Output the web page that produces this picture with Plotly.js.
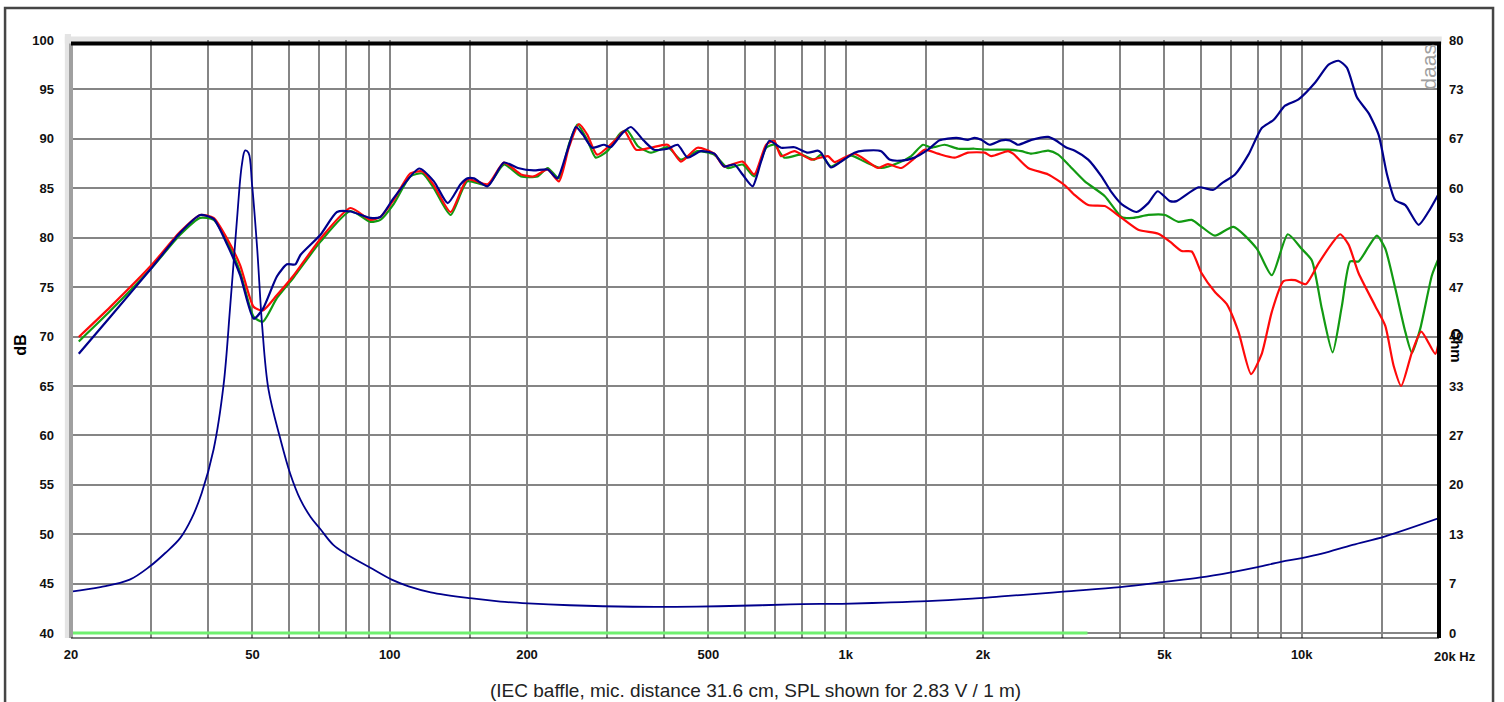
<!DOCTYPE html>
<html>
<head>
<meta charset="utf-8">
<script src="https://cdn.plot.ly/plotly-3.0.1.min.js"></script>
<style>
  html, body { margin: 0; padding: 0; background: #ffffff; }
  #chart { width: 1504px; height: 702px; }
</style>
</head>
<body>
<div id="chart"></div>
<script>
// ---------- DATA ----------
// SPL curves (dB), frequency in Hz
const redFreq = [20.8, 24.4, 30, 34.7, 38.4, 41.1, 44, 47, 50.3, 52.7, 56.6, 61.6, 70.5, 82, 90.7, 95.4, 102, 111, 118, 125, 136, 148, 164, 178, 194, 207, 222, 235, 247, 260, 271, 285, 316, 327, 347, 374, 407, 435, 473, 515, 541, 594, 630, 669, 697, 721, 772, 840, 914, 945, 994, 1045, 1118, 1177, 1238, 1324, 1404, 1489, 1593, 1733, 1854, 2017, 2086, 2270, 2328, 2512, 2780, 3023, 3180, 3402, 3700, 4026, 4380, 4846, 5140, 5454, 5736, 6032, 6452, 6844, 7264, 7742, 8172, 8598, 9120, 9670, 10210, 10884, 11642, 12142, 12668, 13326, 14492, 15244, 15904, 16526, 17446, 18286, 19626, 20000];
const redDb = [69.95, 73.0, 77.2, 80.6, 82.3, 82.0, 79.9, 77.2, 73.0, 72.65, 74.2, 76.2, 79.9, 83.0, 81.8, 82.1, 83.8, 86.5, 86.7, 85.3, 82.6, 85.9, 85.4, 87.6, 86.4, 86.2, 86.9, 85.7, 89.1, 91.5, 90.45, 88.4, 90.1, 90.8, 88.9, 89.1, 89.4, 87.7, 89.1, 88.5, 87.2, 87.7, 86.4, 89.4, 89.8, 88.25, 88.75, 87.9, 88.25, 87.65, 88.1, 88.5, 87.7, 87.05, 87.45, 87.05, 87.9, 88.9, 88.5, 88.1, 88.6, 88.6, 88.25, 88.75, 88.5, 87.05, 86.4, 85.3, 84.3, 83.3, 83.2, 82.0, 80.8, 80.4, 79.6, 78.65, 78.6, 76.4, 74.5, 73.3, 70.5, 66.2, 68.25, 72.5, 75.6, 75.7, 75.3, 77.4, 79.4, 80.35, 79.3, 76.4, 73.1, 71.1, 67.05, 65.0, 68.4, 70.5, 68.25, 69.6];

const greenFreq = [20.8, 24.4, 30, 34.7, 38.4, 41.1, 44, 47, 50.3, 52.7, 56.6, 61.6, 70.5, 82, 90.7, 95.4, 102, 111, 118, 125, 136, 148, 164, 178, 194, 211, 222, 235, 247, 258, 271, 283, 300, 321, 332, 350, 374, 407, 435, 473, 515, 551, 594, 630, 669, 697, 733, 798, 854, 883, 928, 1027, 1099, 1196, 1302, 1392, 1477, 1540, 1648, 1763, 1917, 2052, 2270, 2428, 2554, 2780, 2924, 3076, 3344, 3700, 4026, 4270, 4608, 5012, 5364, 5736, 6032, 6452, 7084, 7968, 8598, 9320, 10006, 10524, 11070, 11688, 12248, 12774, 13326, 14016, 14618, 15244, 16032, 16866, 17446, 18194, 19302, 20000];
const greenDb = [69.5, 72.6, 76.9, 80.3, 82.0, 81.8, 79.6, 76.5, 72.0, 71.5, 73.9, 76.0, 79.6, 82.7, 81.6, 81.8, 83.4, 86.2, 86.5, 85.0, 82.3, 85.7, 85.3, 87.4, 86.2, 86.2, 87.05, 86.0, 89.4, 91.45, 89.9, 88.1, 88.75, 90.6, 90.85, 89.25, 88.6, 89.15, 87.9, 88.75, 88.4, 87.05, 87.4, 86.2, 89.1, 89.4, 88.1, 88.4, 87.9, 88.4, 87.2, 88.3, 87.7, 87.05, 87.55, 88.25, 89.4, 89.1, 89.4, 89.0, 89.0, 88.9, 88.9, 88.75, 88.5, 88.8, 88.4, 87.4, 85.7, 84.2, 82.1, 82.0, 82.3, 82.3, 81.6, 81.8, 81.1, 80.2, 81.1, 78.9, 76.2, 80.35, 78.85, 77.7, 72.8, 68.4, 73.1, 77.6, 77.6, 79.1, 80.2, 78.9, 74.9, 70.5, 68.35, 70.8, 76.2, 78.0];

const blueFreq = [20.8, 24.4, 30, 34.7, 38.4, 41.1, 44, 47, 50.3, 52.7, 56.6, 59.5, 62.1, 63.7, 70.5, 76.6, 82, 90.7, 95.4, 102, 116, 125, 134, 143, 148, 153, 164, 178, 191, 207, 222, 233, 245, 256, 265, 278, 295, 305, 324, 338, 361, 380, 407, 428, 450, 481, 515, 541, 570, 594, 625, 652, 680, 721, 772, 826, 868, 883, 928, 977, 1045, 1099, 1196, 1247, 1324, 1416, 1515, 1606, 1748, 1854, 1917, 1983, 2068, 2194, 2288, 2388, 2554, 2780, 2874, 3038, 3180, 3402, 3638, 3826, 4026, 4342, 4608, 4830, 5140, 5318, 5934, 6402, 6676, 7140, 7642, 8172, 8670, 9192, 9840, 10704, 11452, 12048, 12562, 13214, 14016, 14746, 15382, 16032, 16872, 18048, 18982, 20000];
const blueDb = [68.25, 72.0, 76.9, 80.5, 82.3, 81.9, 79.3, 76.2, 71.8, 72.8, 76.1, 77.3, 77.3, 78.25, 80.3, 82.6, 82.65, 82.0, 82.1, 84.0, 87.0, 85.7, 83.5, 85.4, 86.0, 86.0, 85.2, 87.6, 87.05, 86.8, 86.9, 86.0, 88.75, 91.2, 90.45, 89.1, 89.4, 89.15, 90.6, 91.2, 89.8, 88.9, 89.0, 89.4, 88.1, 88.75, 88.5, 87.2, 87.4, 86.4, 85.2, 87.7, 89.8, 89.1, 89.15, 88.6, 88.8, 88.6, 87.1, 87.7, 88.6, 88.8, 88.75, 87.9, 87.8, 88.1, 88.9, 89.85, 90.1, 89.9, 90.1, 89.9, 89.4, 89.85, 89.85, 89.4, 89.9, 90.2, 89.9, 89.15, 88.8, 87.9, 86.2, 84.6, 83.4, 82.6, 83.5, 84.7, 83.7, 83.7, 85.1, 84.85, 85.5, 86.4, 88.4, 91.1, 91.9, 93.35, 94.0, 95.7, 97.5, 97.9, 97.2, 94.2, 92.6, 90.4, 86.4, 83.8, 83.3, 81.3, 82.65, 84.5];

// Impedance curve (Ohm)
const impFreq = [20, 23.2, 26.9, 29.8, 32.2, 34.7, 36.8, 38.7, 41.1, 43.2, 44.7, 46.2, 47.4, 48.2, 49.0, 49.9, 51.2, 52.5, 54.2, 57.5, 60.5, 63.7, 67.0, 70.5, 75.2, 80.6, 90.7, 101, 110, 123, 150, 175, 201, 248, 341, 471, 652, 803, 980, 1216, 1512, 1893, 2195, 2700, 3000, 4000, 5000, 6000, 7000, 8000, 9000, 10000, 11070, 12928, 15244, 20000];
const impOhm = [5.6, 6.2, 7.2, 9.0, 10.8, 12.8, 15.5, 18.9, 24.8, 33.4, 44.2, 55.5, 63.2, 65.1, 64.8, 60.5, 51.9, 41.5, 32.9, 26.3, 21.5, 18.0, 15.7, 14.0, 11.9, 10.6, 8.8, 7.2, 6.3, 5.5, 4.7, 4.25, 4.0, 3.75, 3.55, 3.57, 3.75, 3.9, 3.95, 4.1, 4.3, 4.65, 4.95, 5.35, 5.6, 6.2, 6.9, 7.5, 8.2, 8.9, 9.6, 10.1, 10.7, 11.9, 13.05, 15.5];

// Light-green reference line at the bottom (dB)
const refFreq = [20, 3390];
const refDb = [40, 40];

// Axes / ticks
const gridFreqs = [20, 30, 40, 50, 60, 70, 80, 90, 100, 150, 200, 300, 400, 500, 600, 700, 800, 900, 1000, 1500, 2000, 3000, 4000, 5000, 6000, 7000, 8000, 9000, 10000, 15000, 20000];
const labelFreqs = [20, 50, 100, 200, 500, 1000, 2000, 5000, 10000];
const labelTexts = ['20', '50', '100', '200', '500', '1k', '2k', '5k', '10k'];
const dbTicks = [40, 45, 50, 55, 60, 65, 70, 75, 80, 85, 90, 95, 100];
const ohmTickLabels = ['0', '7', '13', '20', '27', '33', '40', '47', '53', '60', '67', '73', '80'];
const captionText = '(IEC baffle, mic. distance 31.6 cm, SPL shown for 2.83 V / 1 m)';

// ---------- BUILD ----------
const xTickText = gridFreqs.map(f => {
  const i = labelFreqs.indexOf(f);
  return i >= 0 ? labelTexts[i] : '';
});
const ohmMax = 80;
const ohmTickVals = ohmTickLabels.map((t, i) => i * ohmMax / (ohmTickLabels.length - 1));
const dbRange = [39.5, 100];
const ohmRange = [(dbRange[0] - 40) * ohmMax / 60, ohmMax];

const FONT = 'Liberation Sans, Arial, sans-serif';

const traces = [
  { x: refFreq, y: refDb, type: 'scatter', mode: 'lines', line: { color: '#70f070', width: 3 }, hoverinfo: 'skip', showlegend: false },
  { x: greenFreq, y: greenDb, type: 'scatter', mode: 'lines', line: { color: '#129a12', width: 2.2, shape: 'spline', smoothing: 0.6 }, showlegend: false },
  { x: redFreq, y: redDb, type: 'scatter', mode: 'lines', line: { color: '#ff0a0a', width: 2.2, shape: 'spline', smoothing: 0.6 }, showlegend: false },
  { x: blueFreq, y: blueDb, type: 'scatter', mode: 'lines', line: { color: '#00008c', width: 2.2, shape: 'spline', smoothing: 0.6 }, showlegend: false },
  { x: impFreq, y: impOhm, yaxis: 'y2', type: 'scatter', mode: 'lines', line: { color: '#00008c', width: 1.8, shape: 'spline', smoothing: 1.0 }, showlegend: false }
];

const layout = {
  width: 1504,
  height: 702,
  margin: { l: 71, r: 65, t: 40, b: 64, pad: 0 },
  paper_bgcolor: '#ffffff',
  plot_bgcolor: '#ffffff',
  font: { family: FONT, color: '#000000' },
  showlegend: false,
  xaxis: {
    type: 'log',
    range: [Math.log10(20), Math.log10(20000)],
    tickmode: 'array',
    tickvals: gridFreqs,
    ticktext: xTickText,
    showgrid: true,
    gridcolor: '#858585',
    gridwidth: 2,
    zeroline: false,
    showline: false,
    ticks: '',
    ticklabelstandoff: 7,
    tickfont: { family: FONT, size: 13, weight: 'bold', color: '#111111' }
  },
  yaxis: {
    range: dbRange,
    tickmode: 'array',
    tickvals: dbTicks,
    ticktext: dbTicks.map(String),
    showgrid: true,
    gridcolor: '#858585',
    gridwidth: 2,
    zeroline: false,
    showline: false,
    ticks: '',
    ticklabelstandoff: 16,
    tickfont: { family: FONT, size: 13, weight: 'bold', color: '#111111' }
  },
  yaxis2: {
    overlaying: 'y',
    side: 'right',
    range: ohmRange,
    tickmode: 'array',
    tickvals: ohmTickVals,
    ticktext: ohmTickLabels,
    showgrid: false,
    zeroline: false,
    showline: false,
    ticks: '',
    ticklabelstandoff: 9,
    tickfont: { family: FONT, size: 13, weight: 'bold', color: '#111111' }
  },
  shapes: [
    // outer frame
    { type: 'rect', xref: 'paper', yref: 'paper', x0: -0.0482, x1: 1.0395, y0: -0.2, y1: 1.0535, line: { color: '#454545', width: 2.5 }, fillcolor: 'rgba(0,0,0,0)', layer: 'below' },
    // light shadow at left and top of plot area
    { type: 'rect', xref: 'paper', yref: 'paper', x0: -0.0045, x1: 0, y0: 0, y1: 1.01, line: { width: 0 }, fillcolor: '#e4e4e4', layer: 'below' },
    { type: 'rect', xref: 'paper', yref: 'paper', x0: -0.0045, x1: 1.002, y0: 0.9942, y1: 1.006, line: { width: 0 }, fillcolor: '#e4e4e4', layer: 'below' },
    // left axis (grey)
    { type: 'line', xref: 'paper', yref: 'paper', x0: 0, x1: 0, y0: 0, y1: 0.9942, line: { color: '#a0a0a0', width: 4 } },
    // top (black thick)
    { type: 'line', xref: 'paper', yref: 'paper', x0: 0, x1: 1.0015, y0: 0.9942, y1: 0.9942, line: { color: '#000000', width: 4 } },
    // right (black thick)
    { type: 'line', xref: 'paper', yref: 'paper', x0: 1, x1: 1, y0: 0, y1: 0.9942, line: { color: '#000000', width: 4 } },
    // bottom (thin black)
    { type: 'line', xref: 'paper', yref: 'paper', x0: 0, x1: 1, y0: 0, y1: 0, line: { color: '#000000', width: 1.2 } }
  ],
  annotations: [
    { text: '20k Hz', xref: 'paper', yref: 'paper', x: 0.9949, y: -0.031, xanchor: 'left', yanchor: 'middle', showarrow: false, font: { family: FONT, size: 13, weight: 'bold', color: '#111111' } },
    { text: 'dB', xref: 'paper', yref: 'paper', x: -0.0365, y: 0.489, xanchor: 'center', yanchor: 'middle', textangle: -90, showarrow: false, font: { family: FONT, size: 16, weight: 'bold', color: '#000000' } },
    { text: 'Ohm', xref: 'paper', yref: 'paper', x: 1.0125, y: 0.489, xanchor: 'center', yanchor: 'middle', textangle: 90, showarrow: false, font: { family: FONT, size: 15, weight: 'bold', color: '#000000' } },
    { text: captionText, xref: 'paper', yref: 'paper', x: 0.5, y: -0.087, xanchor: 'center', yanchor: 'middle', showarrow: false, font: { family: FONT, size: 19, color: '#222222' } },
    { text: 'daas', xref: 'paper', yref: 'paper', x: 0.9925, y: 0.955, xanchor: 'center', yanchor: 'middle', textangle: -90, showarrow: false, font: { family: FONT, size: 21, color: '#a0a0a0' } }
  ]
};

Plotly.newPlot('chart', traces, layout, { displayModeBar: false, staticPlot: true });
</script>
</body>
</html>
